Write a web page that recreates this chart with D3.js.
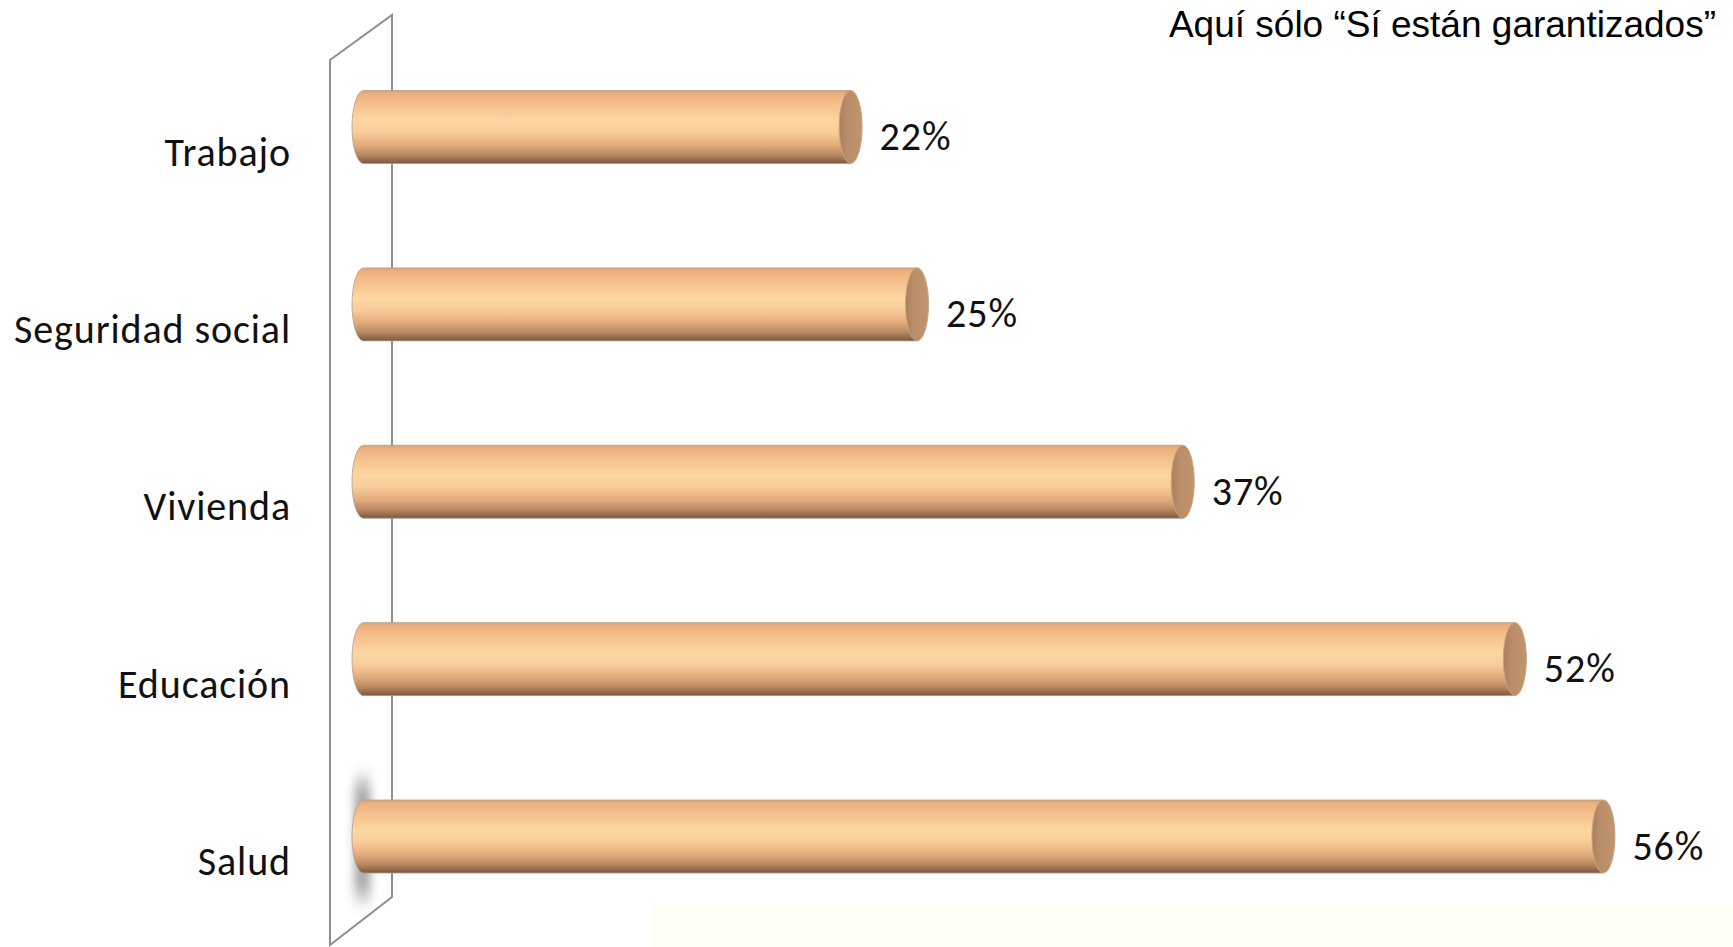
<!DOCTYPE html>
<html>
<head>
<meta charset="utf-8">
<script src="https://cdn.jsdelivr.net/npm/d3@7"></script>
<style>
  html, body { margin: 0; padding: 0; background: #ffffff; }
  svg { display: block; }
</style>
</head>
<body>
<svg id="chart" width="1733" height="947"></svg>
<script>
// ---- data ----
const categories = ["Trabajo", "Seguridad social", "Vivienda", "Educación", "Salud"];
const values = [22, 25, 37, 52, 56];
const titleText = "Aquí sólo “Sí están garantizados”";

// ---- layout ----
const W = 1733, H = 947;
const svg = d3.select("#chart");

const x = d3.scaleLinear().domain([0, 60]).range([363.5, 1692]);
const y = d3.scalePoint().domain(categories).range([127, 836.5]);
const barH = 73, rx = 11.5, ry = barH / 2;

const labelFont = "Carlito, Lato, 'DejaVu Sans', sans-serif";
const labelSize = 40, labelSpacing = 0.9;

const defs = svg.append("defs");
const g1 = defs.append("linearGradient").attr("id", "barGrad")
  .attr("x1", 0).attr("y1", 0).attr("x2", 0).attr("y2", 1);
[[0, "#d9a47a"], [0.05, "#eeb07c"], [0.18, "#f5bf8c"], [0.42, "#fdd7a3"],
 [0.58, "#f8cb98"], [0.75, "#e2ab7c"], [0.88, "#b98961"], [1, "#7c5840"]]
  .forEach(([o, c]) => g1.append("stop").attr("offset", o).attr("stop-color", c));

const g2 = defs.append("linearGradient").attr("id", "capGrad")
  .attr("x1", 0).attr("y1", 0).attr("x2", 1).attr("y2", 0);
[[0, "#a98060"], [0.35, "#b98d68"], [1, "#c1956e"]]
  .forEach(([o, c]) => g2.append("stop").attr("offset", o).attr("stop-color", c));

const blur = defs.append("filter").attr("id", "blur")
  .attr("x", "-150%").attr("y", "-30%").attr("width", "400%").attr("height", "160%");
blur.append("feGaussianBlur").attr("stdDeviation", "5 10");

// faint background strip at bottom
svg.append("rect").attr("x", 652).attr("y", 906).attr("width", W - 652).attr("height", H - 906)
  .attr("fill", "#fefef4");

// wall (3D axis plane)
svg.append("path")
  .attr("d", "M330,945 L330,60 L392,15 L392,897 Z")
  .attr("fill", "none").attr("stroke", "#8f8f8f").attr("stroke-width", 2)
  .attr("stroke-linejoin", "miter");

// shadow on the wall behind the last bar
const lastCat = categories[categories.length - 1];
svg.append("rect")
  .attr("x", x(0) - 9).attr("y", y(lastCat) - 55)
  .attr("width", 16).attr("height", 115)
  .attr("fill", "#6a6a6a").attr("opacity", 0.6)
  .attr("filter", "url(#blur)");

// bars (cylinders)
const bars = svg.append("g").selectAll("g.bar")
  .data(categories.map((c, i) => ({ cat: c, val: values[i] })))
  .join("g").attr("class", "bar");

bars.append("path")
  .attr("d", d => {
    const x0 = x(0), x1 = x(d.val), t = y(d.cat) - ry, b = y(d.cat) + ry;
    return `M${x0},${t} L${x1},${t} L${x1},${b} L${x0},${b} A${rx},${ry} 0 0 1 ${x0},${t} Z`;
  })
  .attr("fill", "url(#barGrad)")
  .attr("stroke", "#b0a090").attr("stroke-width", 0.8);

bars.append("ellipse")
  .attr("cx", d => x(d.val)).attr("cy", d => y(d.cat))
  .attr("rx", rx).attr("ry", ry)
  .attr("fill", "url(#capGrad)")
  .attr("stroke", "#caa47f").attr("stroke-width", 1);

// value labels
bars.append("text")
  .attr("x", d => x(d.val) + 29)
  .attr("y", d => y(d.cat) + 23)
  .attr("font-family", labelFont).attr("font-size", labelSize)
  .attr("letter-spacing", labelSpacing).attr("fill", "#111")
  .text(d => d.val + "%");

// category axis
const axis = svg.append("g").attr("transform", "translate(291,0)")
  .call(d3.axisLeft(y).tickSize(0).tickPadding(0));
axis.select(".domain").remove();
axis.selectAll("text")
  .attr("dy", null).attr("y", 38).attr("x", 0)
  .attr("font-family", labelFont).attr("font-size", labelSize)
  .attr("letter-spacing", labelSpacing).attr("fill", "#111")
  .attr("text-anchor", "end");

// title
svg.append("text")
  .attr("x", 1716).attr("y", 37)
  .attr("text-anchor", "end")
  .attr("font-family", "'Liberation Sans', Arial, sans-serif")
  .attr("font-size", 37).attr("fill", "#000")
  .text(titleText);
</script>
</body>
</html>
